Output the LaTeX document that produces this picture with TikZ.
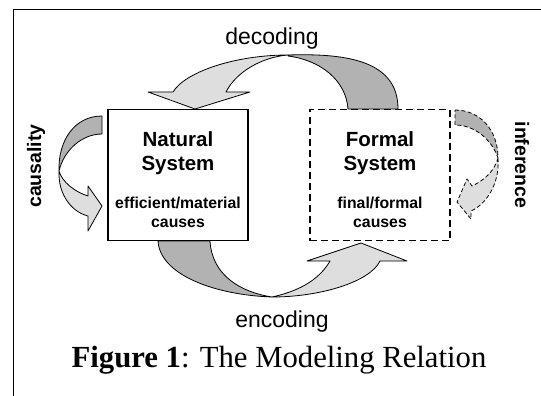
\documentclass[tikz,border=0pt]{standalone}
\usepackage{fontspec}
\setmainfont{Liberation Serif}
\setsansfont{Liberation Sans}
\usetikzlibrary{positioning}
\definecolor{frontgray}{gray}{0.87}
\definecolor{backgray}{gray}{0.70}
\tikzset{
  system/.style={draw, line width=1.3pt, outer sep=0pt, inner sep=0pt, minimum width=140pt, minimum height=131pt},
  formalsys/.style={system, dash pattern=on 7pt off 4pt},
  boxtitle/.style={font=\sffamily\bfseries\fontsize{20.5}{24}\selectfont, align=center, inner sep=0pt},
  boxcause/.style={font=\sffamily\bfseries\fontsize{15.8}{19}\selectfont, align=center, inner sep=0pt},
  arrowlabel/.style={font=\sffamily\fontsize{23}{27}\selectfont, inner sep=0pt},
  sidelabel/.style={font=\sffamily\bfseries\fontsize{19.5}{23}\selectfont, inner sep=0pt},
  ribbon/.style={draw, line width=0.8pt, line join=round},
  dashribbon/.style={ribbon, dash pattern=on 4pt off 2.5pt}
}

\begin{document}
\begin{tikzpicture}[x=1pt, y=-1pt]
\clip (0,0) rectangle (541,396);
\fill[white] (0,0) rectangle (541,396);
\draw[line width=1.5pt] (13.5,9.5) rectangle (570,430);

\node (natural) [system] at (178,175) {};
\node (formal) [formalsys, right=62pt of natural] {};
\node (naturalname) [boxtitle, below=22pt of natural.north] {Natural\\System};
\node (naturalcause) [boxcause, above=13pt of natural.south] {efficient/material\\causes};
\node (formalname) [boxtitle, below=22pt of formal.north] {Formal\\System};
\node (formalcause) [boxcause, above=13pt of formal.south] {final/formal\\causes};

% decoding
\path[ribbon, fill=backgray] (288,55) .. controls (350,53) and (398,62) .. (398,109)
  -- (348,109) .. controls (346,80) and (320,60) .. (288,56) -- cycle;
\path[ribbon, fill=frontgray] (173,92) .. controls (185,72) and (235,55) .. (288,55)
  .. controls (262,57) and (236,72) .. (226,92) -- (250,92) -- (195,109) -- (148,92) -- cycle;

% encoding
\path[ribbon, fill=backgray] (158,241) .. controls (160,275) and (215,295) .. (272,297)
  .. controls (240,292) and (212,275) .. (210,241) -- cycle;
\path[ribbon, fill=frontgray] (272,297) .. controls (320,297) and (370,282) .. (380,261)
  -- (407,261) -- (361,243) -- (307,261) -- (330,261)
  .. controls (318,282) and (295,292) .. (272,297) -- cycle;

% causality
\path[ribbon, fill=backgray] (102,116) .. controls (75,116) and (58,140) .. (59,171)
  .. controls (64,150) and (82,134) .. (102,134) -- cycle;
\path[ribbon, fill=frontgray] (59,171) .. controls (58,195) and (72,212) .. (88,216)
  -- (88,231) -- (102,206) -- (88,186) -- (88,196)
  .. controls (75,192) and (62,182) .. (59,171) -- cycle;

% inference
\path[dashribbon, fill=backgray] (455,110) .. controls (480,110) and (498,130) .. (498,158)
  .. controls (492,140) and (475,125) .. (455,125) -- cycle;
\path[dashribbon, fill=frontgray] (498,158) .. controls (500,185) and (485,205) .. (471,211)
  -- (471,219) -- (457,202) -- (467,179) -- (472,186)
  .. controls (485,180) and (495,170) .. (498,158) -- cycle;

\node (decoding) [arrowlabel, anchor=base] at (272,45) {decoding};
\node (encoding) [arrowlabel, anchor=base] at (282,327) {encoding};
\node (causality) [sidelabel, rotate=90] at (36,166) {causality};
\node (inference) [sidelabel, rotate=-90] at (522,165) {inference};
\node (caption) [anchor=base, inner sep=0pt, font=\fontsize{30.7}{36}\selectfont] at (279,367) {\textbf{Figure 1}: The Modeling Relation};
\end{tikzpicture}
\end{document}
